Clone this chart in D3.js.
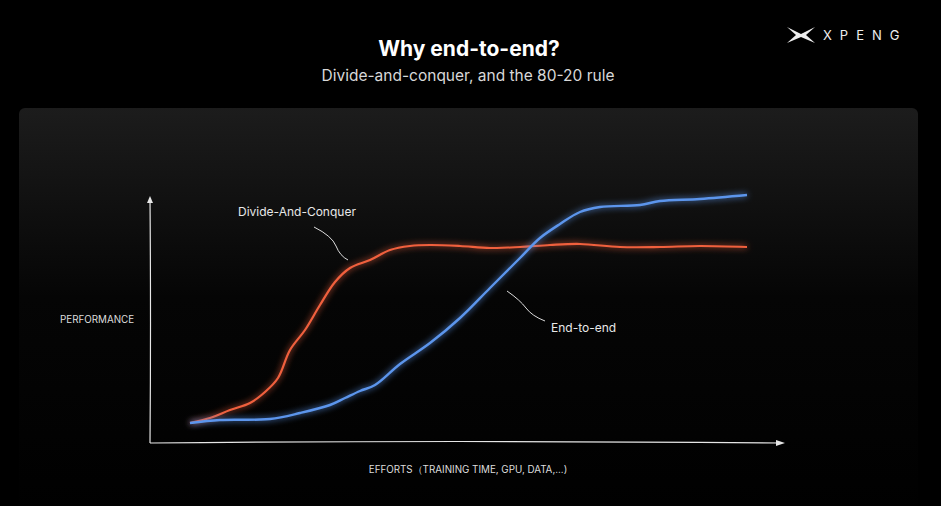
<!DOCTYPE html>
<html><head><meta charset="utf-8">
<script src="https://cdn.jsdelivr.net/npm/d3@7"></script>
<style>body{margin:0;background:#000;}svg{display:block;font-family:Inter,"Noto Sans",sans-serif;}</style>
</head><body><div id="chart"></div>
<script>
// effort units (0-635) vs performance (0-250)
const dacEffort = [40,60,80,100,115,128,140,155,170,185,200,220,240,260,280,310,340,370,400,430,470,510,550,597];
const dacPerf   = [20,25,33,40,51,65,93,113,138,161,175,183,193,197,198,197,195,196,198,199,196,196,197,196];
const e2eEffort = [40,70,120,150,180,195,210,225,250,280,310,340,370,390,410,430,450,490,510,550,597];
const e2ePerf   = [20,23,24,30,38,45,52,58,79,100,125,155,185,205,219,231,236,238,242,244,248];
const seriesNames = ["Divide-And-Conquer","End-to-end"];

const W = 941, H = 506;
const svg = d3.select("#chart").append("svg").attr("width", W).attr("height", H);
const defs = svg.append("defs");
const grad = defs.append("linearGradient").attr("id","bg").attr("x1",0).attr("y1",0).attr("x2",0).attr("y2",1);
grad.append("stop").attr("offset","0%").attr("stop-color","#1c1c1c");
grad.append("stop").attr("offset","45%").attr("stop-color","#050505");
grad.append("stop").attr("offset","100%").attr("stop-color","#000");
const glow = defs.append("filter").attr("id","glow").attr("x","-10%").attr("y","-10%").attr("width","120%").attr("height","120%");
glow.append("feGaussianBlur").attr("stdDeviation",3).attr("result","b");
const m = glow.append("feMerge");
m.append("feMergeNode").attr("in","b");
m.append("feMergeNode").attr("in","SourceGraphic");

svg.append("rect").attr("width",W).attr("height",H).attr("fill","#000");
svg.append("rect").attr("x",19).attr("y",108).attr("width",899).attr("height",420).attr("rx",6).attr("fill","url(#bg)");

// title
svg.append("text").attr("x",469).attr("y",56).attr("text-anchor","middle").attr("fill","#fff")
  .style("font-size","21px").style("font-weight","bold").text("Why end-to-end?");
svg.append("text").attr("x",468).attr("y",81).attr("text-anchor","middle").attr("fill","#d8d8d8")
  .style("font-size","15.5px").text("Divide-and-conquer, and the 80-20 rule");

// logo
const logo = svg.append("g").attr("transform","translate(787,35)").attr("fill","#eee");
logo.append("path").attr("d","M0,-8 L14,-1 L28,-8 L19,0 L28,8 L14,2 L0,8 L9,0 Z");
logo.append("text").attr("x",36).attr("y",5).style("font-size","13px").style("letter-spacing","8px").text("XPENG");

const x = d3.scaleLinear().domain([0,635]).range([150,785]);
const y = d3.scaleLinear().domain([0,250]).range([443,193]);

// hand-drawn axes
const axisColor = "#e6e6e6";
svg.append("path").attr("d",`M${x(0)},${y(0)} Q${x(1)},${y(120)} ${x(0)},${y(245)}`).attr("stroke",axisColor).attr("fill","none").attr("stroke-width",1.2);
svg.append("path").attr("d",`M${x(0)-3},${y(240)} L${x(0)},${y(247)} L${x(0)+3},${y(240)} Z`).attr("fill",axisColor);
svg.append("path").attr("d",`M${x(0)},${y(0)} Q${x(300)},${y(3)} ${x(632)},${y(0)}`).attr("stroke",axisColor).attr("fill","none").attr("stroke-width",1.2);
svg.append("path").attr("d",`M${x(626)},${y(0)-3} L${x(635)},${y(0)} L${x(626)},${y(0)+3} Z`).attr("fill",axisColor);

svg.append("text").attr("x",60).attr("y",323).attr("fill","#ddd").style("font-size","9.8px").text("PERFORMANCE");
svg.append("text").attr("x",468).attr("y",473).attr("text-anchor","middle").attr("fill","#ddd").style("font-size","9.8px")
  .text("EFFORTS（TRAINING TIME, GPU, DATA,...)");

const line = d3.line().x(d => x(d[0])).y(d => y(d[1])).curve(d3.curveCatmullRom);
const dac = dacEffort.map((e,i) => [e, dacPerf[i]]);
const e2e = e2eEffort.map((e,i) => [e, e2ePerf[i]]);
svg.append("path").attr("d",line(dac)).attr("fill","none").attr("stroke","#f0603e").attr("stroke-width",2.2).attr("filter","url(#glow)");
svg.append("path").attr("d",line(e2e)).attr("fill","none").attr("stroke","#5b95ec").attr("stroke-width",2.4).attr("filter","url(#glow)");

// annotations
svg.append("text").attr("x",238).attr("y",216).attr("fill","#e8e8e8").style("font-size","12px").text(seriesNames[0]);
svg.append("path").attr("d","M314,227 Q332,236 336,246 T348,260").attr("stroke","#ddd").attr("fill","none");
svg.append("text").attr("x",551).attr("y",332).attr("fill","#e8e8e8").style("font-size","12px").text(seriesNames[1]);
svg.append("path").attr("d","M507,291 Q520,300 526,308 T545,321").attr("stroke","#ddd").attr("fill","none");
</script></body></html>
